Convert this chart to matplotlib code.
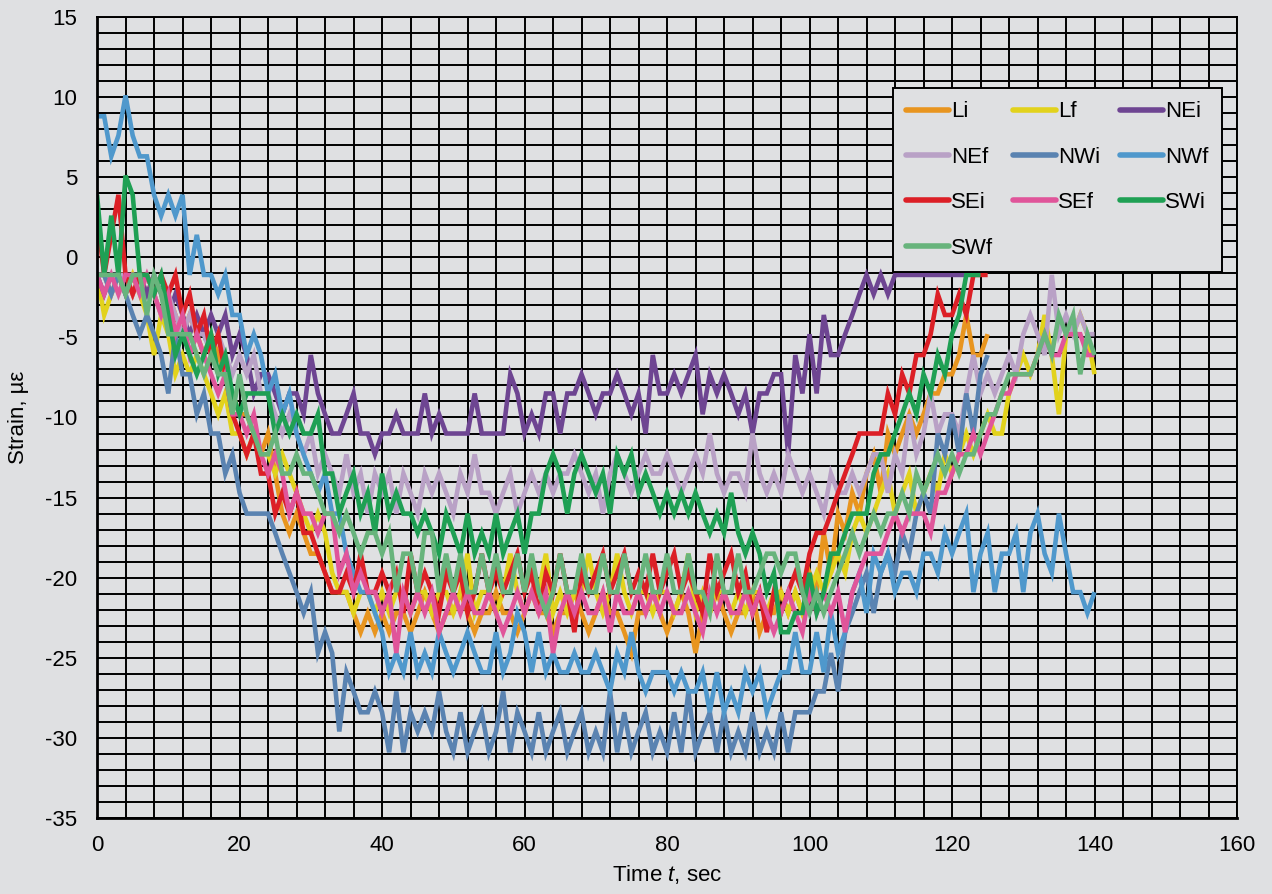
import numpy as np
import matplotlib
matplotlib.use("Agg")
import matplotlib.pyplot as plt
from matplotlib.ticker import MultipleLocator

plt.rcParams['font.family'] = ['Liberation Sans', 'DejaVu Sans']
plt.rcParams['mathtext.fontset'] = 'custom'
plt.rcParams['mathtext.rm'] = 'Liberation Sans'
plt.rcParams['mathtext.it'] = 'Liberation Sans:italic'
plt.rcParams['axes.unicode_minus'] = False

# gauge readings, strain in microstrain, one sample per second from t = 0
Li = [-1.1, -1.1, -2.3, -1.1, -1.1, -2.3, -1.1, -2.3, -2.3, -3.6,
      -2.3, -3.6, -4.8, -3.6, -4.8, -6.1, -4.8, -6.1, -7.3, -8.5,
      -9.8, -9.8, -11.0, -12.3, -11.0, -13.5, -16.0, -17.2, -16.0, -17.2,
      -18.5, -18.5, -19.7, -20.9, -20.9, -20.9, -22.2, -23.4, -22.2, -23.4,
      -22.2, -23.4, -22.2, -22.2, -23.4, -22.2, -20.9, -22.2, -23.4, -22.2,
      -22.2, -20.9, -22.2, -23.4, -22.2, -22.2, -20.9, -22.2, -22.2, -23.4,
      -22.2, -20.9, -22.2, -22.2, -23.4, -22.2, -22.2, -20.9, -22.2, -23.4,
      -22.2, -20.9, -22.2, -22.2, -23.4, -24.7, -22.2, -22.2, -20.9, -22.2,
      -23.4, -22.2, -20.9, -22.2, -24.7, -22.2, -22.2, -20.9, -22.2, -23.4,
      -22.2, -22.2, -20.9, -23.4, -22.2, -22.2, -20.9, -22.2, -20.9, -22.2,
      -19.7, -20.9, -17.2, -19.7, -16.0, -17.2, -14.7, -16.0, -13.5, -12.3,
      -14.7, -11.0, -12.3, -11.0, -9.8, -11.0, -9.8, -8.5, -8.5, -7.3,
      -7.3, -6.1, -3.6, -6.1, -6.1, -4.8]

Lf = [-1.1, -3.6, -2.3, -1.1, -2.3, -1.1, -2.3, -3.6, -6.1, -3.6,
      -4.8, -7.3, -6.1, -7.3, -6.1, -7.3, -8.5, -9.8, -8.5, -11.0,
      -11.0, -12.3, -11.0, -12.3, -12.3, -13.5, -12.3, -13.5, -14.7, -16.0,
      -17.2, -16.0, -17.2, -19.7, -20.9, -20.9, -22.2, -20.9, -20.9, -22.2,
      -20.9, -22.2, -20.9, -20.9, -22.2, -20.9, -20.9, -22.2, -20.9, -20.9,
      -22.2, -20.9, -18.5, -22.2, -20.9, -20.9, -22.2, -20.9, -18.5, -20.9,
      -22.2, -20.9, -20.9, -18.5, -22.2, -20.9, -22.2, -20.9, -20.9, -18.5,
      -20.9, -22.2, -20.9, -18.5, -20.9, -22.2, -20.9, -20.9, -22.2, -20.9,
      -20.9, -22.2, -20.9, -18.5, -22.2, -20.9, -22.2, -20.9, -20.9, -22.2,
      -20.9, -22.2, -20.9, -20.9, -22.2, -20.9, -20.9, -22.2, -20.9, -22.2,
      -20.9, -19.7, -20.9, -19.7, -18.5, -19.7, -17.2, -16.0, -17.2, -16.0,
      -14.7, -13.5, -16.0, -14.7, -13.5, -16.0, -14.7, -13.5, -14.7, -12.3,
      -13.5, -12.3, -11.0, -12.3, -11.0, -9.8, -11.0, -11.0, -8.5, -7.3,
      -6.1, -7.3, -6.1, -3.6, -6.1, -9.8, -4.8, -4.8, -3.6, -4.8, -7.3]

NEi = [-1.1, -2.3, -1.1, -1.1, -2.3, -1.1, -1.1, -2.3, -1.1, -2.3,
       -3.6, -2.3, -3.6, -4.8, -3.6, -4.8, -3.6, -4.8, -3.6, -6.1,
       -4.8, -6.1, -8.5, -7.3, -7.3, -8.5, -9.8, -8.5, -8.5, -9.8,
       -6.1, -8.5, -9.8, -11.0, -11.0, -9.8, -8.5, -11.0, -11.0, -12.3,
       -11.0, -11.0, -9.8, -11.0, -11.0, -11.0, -8.5, -11.0, -9.8, -11.0,
       -11.0, -11.0, -11.0, -8.5, -11.0, -11.0, -11.0, -11.0, -7.3, -8.5,
       -11.0, -9.8, -11.0, -8.5, -8.5, -11.0, -8.5, -8.5, -7.3, -8.5,
       -9.8, -8.5, -8.5, -7.3, -8.5, -9.8, -8.5, -11.0, -6.1, -8.5,
       -8.5, -7.3, -8.5, -7.3, -6.1, -9.8, -7.3, -8.5, -7.3, -8.5,
       -9.8, -8.5, -11.0, -8.5, -8.5, -7.3, -7.3, -12.3, -6.1, -8.5,
       -4.8, -8.5, -3.6, -6.1, -6.1, -4.8, -3.6, -2.3, -1.1, -2.3,
       -1.1, -2.3, -1.1, -1.1, -1.1, -1.1, -1.1, -1.1, -1.1, -1.1,
       -1.1, -1.1, -1.1]

NEf = [-1.1, -1.1, -2.3, -1.1, -1.1, -2.3, -1.1, -1.1, -2.3, -3.6,
       -2.3, -3.6, -4.8, -3.6, -4.8, -4.8, -6.1, -4.8, -6.1, -7.3,
       -6.1, -7.3, -6.1, -8.5, -8.5, -9.8, -11.0, -9.8, -11.0, -12.3,
       -11.0, -13.5, -12.3, -13.5, -14.7, -12.3, -14.7, -13.5, -16.0, -13.5,
       -14.7, -13.5, -16.0, -13.5, -14.7, -16.0, -13.5, -14.7, -13.5, -14.7,
       -16.0, -13.5, -14.7, -12.3, -14.7, -14.7, -16.0, -14.7, -13.5, -16.0,
       -14.7, -13.5, -14.7, -13.5, -14.7, -13.5, -13.5, -12.3, -13.5, -14.7,
       -13.5, -16.0, -13.5, -12.3, -13.5, -14.7, -13.5, -12.3, -13.5, -13.5,
       -12.3, -13.5, -14.7, -13.5, -12.3, -13.5, -11.0, -13.5, -14.7, -13.5,
       -13.5, -14.7, -11.0, -13.5, -14.7, -13.5, -14.7, -12.3, -13.5, -14.7,
       -13.5, -14.7, -16.0, -13.5, -14.7, -14.7, -13.5, -14.7, -13.5, -12.3,
       -12.3, -14.7, -12.3, -13.5, -9.8, -12.3, -11.0, -8.5, -11.0, -9.8,
       -9.8, -11.0, -8.5, -6.1, -8.5, -7.3, -8.5, -7.3, -6.1, -7.3,
       -4.8, -3.6, -4.8, -6.1, -1.1, -4.8, -3.6, -4.8, -3.6, -4.8, -4.8]

NWi = [-1.1, -1.1, -2.3, -1.1, -2.3, -3.6, -4.8, -3.6, -4.8, -6.1,
       -8.5, -4.8, -7.3, -7.3, -9.8, -8.5, -11.0, -11.0, -13.5, -12.3,
       -14.7, -16.0, -16.0, -16.0, -16.0, -17.2, -18.5, -19.7, -20.9, -22.2,
       -20.9, -24.7, -23.4, -24.7, -29.6, -25.9, -27.1, -28.4, -28.4, -27.1,
       -28.4, -30.9, -27.1, -30.9, -28.4, -29.6, -28.4, -29.6, -27.1, -29.6,
       -30.9, -28.4, -30.9, -29.6, -28.4, -30.9, -29.6, -27.1, -30.9, -28.4,
       -29.6, -30.9, -28.4, -30.9, -29.6, -28.4, -30.9, -29.6, -28.4, -30.9,
       -29.6, -30.9, -27.1, -30.9, -28.4, -30.9, -29.6, -28.4, -30.9, -29.6,
       -30.9, -28.4, -30.9, -27.1, -30.9, -29.6, -28.4, -30.9, -28.4, -30.9,
       -29.6, -30.9, -28.4, -30.9, -29.6, -30.9, -28.4, -30.9, -28.4, -28.4,
       -28.4, -27.1, -27.1, -24.7, -27.1, -23.4, -22.2, -20.9, -19.7, -22.2,
       -19.7, -18.5, -19.7, -17.2, -18.5, -16.0, -14.7, -16.0, -11.0, -12.3,
       -9.8, -12.3, -8.5, -11.0, -7.3, -6.1]

NWf = [8.8, 8.8, 6.3, 7.6, 10.1, 7.6, 6.3, 6.3, 3.9, 2.6,
       3.9, 2.6, 3.9, -1.1, 1.4, -1.1, -1.1, -2.3, -1.1, -3.6,
       -3.6, -6.1, -4.8, -6.1, -8.5, -7.3, -9.8, -8.5, -11.0, -12.3,
       -13.5, -14.7, -13.5, -16.0, -16.0, -18.5, -19.7, -20.9, -20.9, -22.2,
       -23.4, -25.9, -24.7, -25.9, -23.4, -25.9, -24.7, -25.9, -23.4, -24.7,
       -25.9, -24.7, -23.4, -24.7, -25.9, -25.9, -23.4, -25.9, -24.7, -22.2,
       -23.4, -25.9, -23.4, -25.9, -24.7, -25.9, -25.9, -24.7, -25.9, -25.9,
       -24.7, -25.9, -27.1, -24.7, -25.9, -23.4, -25.9, -27.1, -25.9, -25.9,
       -25.9, -27.1, -25.9, -27.1, -27.1, -25.9, -28.4, -25.9, -28.4, -27.1,
       -28.4, -25.9, -27.1, -25.9, -28.4, -27.1, -25.9, -25.9, -23.4, -25.9,
       -25.9, -23.4, -25.9, -22.2, -24.7, -23.4, -20.9, -19.7, -22.2, -18.5,
       -19.7, -18.5, -20.9, -19.7, -19.7, -20.9, -18.5, -18.5, -19.7, -17.2,
       -18.5, -17.2, -16.0, -20.9, -18.5, -17.2, -20.9, -18.5, -18.5, -17.2,
       -20.9, -17.2, -16.0, -18.5, -19.7, -16.0, -18.5, -20.9, -20.9, -22.2, -20.9]

SEi = [2.6, -1.1, 1.4, 3.9, -1.1, -2.3, -1.1, -1.1, -2.3, -1.1,
       -2.3, -1.1, -3.6, -2.3, -4.8, -3.6, -6.1, -4.8, -7.3, -9.8,
       -11.0, -12.3, -11.0, -13.5, -13.5, -16.0, -14.7, -16.0, -14.7, -17.2,
       -17.2, -18.5, -19.7, -20.9, -20.9, -19.7, -20.9, -18.5, -20.9, -20.9,
       -19.7, -20.9, -19.7, -22.2, -18.5, -20.9, -19.7, -20.9, -22.2, -19.7,
       -20.9, -19.7, -22.2, -20.9, -18.5, -20.9, -19.7, -20.9, -19.7, -18.5,
       -20.9, -19.7, -22.2, -19.7, -20.9, -18.5, -20.9, -23.4, -19.7, -20.9,
       -19.7, -18.5, -20.9, -19.7, -18.5, -20.9, -19.7, -20.9, -18.5, -20.9,
       -19.7, -18.5, -20.9, -19.7, -20.9, -22.2, -18.5, -20.9, -19.7, -18.5,
       -20.9, -19.7, -22.2, -20.9, -23.4, -20.9, -22.2, -20.9, -19.7, -20.9,
       -18.5, -17.2, -17.2, -16.0, -14.7, -13.5, -12.3, -11.0, -11.0, -11.0,
       -11.0, -8.5, -9.8, -7.3, -8.5, -6.1, -6.1, -4.8, -2.3, -3.6,
       -3.6, -2.3, -3.6, -1.1, -1.1, -1.1]

SEf = [-1.1, -2.3, -1.1, -2.3, -1.1, -1.1, -2.3, -1.1, -2.3, -3.6,
       -2.3, -4.8, -3.6, -6.1, -4.8, -6.1, -7.3, -8.5, -7.3, -9.8,
       -9.8, -11.0, -9.8, -12.3, -13.5, -12.3, -13.5, -16.0, -14.7, -16.0,
       -16.0, -17.2, -16.0, -16.0, -19.7, -18.5, -20.9, -19.7, -20.9, -20.9,
       -22.2, -20.9, -24.7, -20.9, -22.2, -20.9, -22.2, -20.9, -23.4, -22.2,
       -20.9, -22.2, -20.9, -22.2, -22.2, -20.9, -22.2, -23.4, -22.2, -20.9,
       -22.2, -20.9, -22.2, -20.9, -24.7, -22.2, -20.9, -22.2, -20.9, -22.2,
       -22.2, -20.9, -23.4, -20.9, -22.2, -22.2, -20.9, -22.2, -20.9, -22.2,
       -20.9, -22.2, -22.2, -20.9, -22.2, -23.4, -20.9, -22.2, -20.9, -22.2,
       -22.2, -20.9, -22.2, -20.9, -22.2, -23.4, -22.2, -20.9, -22.2, -23.4,
       -20.9, -22.2, -20.9, -22.2, -20.9, -23.4, -20.9, -19.7, -18.5, -18.5,
       -18.5, -17.2, -16.0, -17.2, -16.0, -16.0, -16.0, -17.2, -14.7, -14.7,
       -13.5, -12.3, -12.3, -11.0, -12.3, -11.0, -9.8, -8.5, -8.5, -7.3,
       -7.3, -7.3, -6.1, -4.8, -6.1, -6.1, -4.8, -4.8, -4.8, -6.1, -6.1]

SWi = [3.9, -1.1, 2.6, -1.1, 5.1, 3.9, -1.1, -1.1, -2.3, -1.1,
       -3.6, -6.1, -4.8, -6.1, -7.3, -6.1, -4.8, -7.3, -6.1, -8.5,
       -9.8, -8.5, -8.5, -8.5, -8.5, -11.0, -9.8, -11.0, -9.8, -11.0,
       -11.0, -9.8, -13.5, -13.5, -16.0, -14.7, -13.5, -16.0, -14.7, -17.2,
       -13.5, -16.0, -14.7, -16.0, -16.0, -17.2, -16.0, -17.2, -18.5, -16.0,
       -17.2, -18.5, -16.0, -18.5, -17.2, -18.5, -16.0, -18.5, -17.2, -16.0,
       -18.5, -16.0, -16.0, -13.5, -12.3, -13.5, -16.0, -13.5, -12.3, -13.5,
       -14.7, -13.5, -16.0, -12.3, -13.5, -12.3, -14.7, -13.5, -14.7, -16.0,
       -14.7, -16.0, -14.7, -16.0, -14.7, -16.0, -17.2, -16.0, -17.2, -14.7,
       -17.2, -18.5, -17.2, -18.5, -20.9, -19.7, -23.4, -23.4, -22.2, -22.2,
       -19.7, -22.2, -20.9, -18.5, -18.5, -17.2, -16.0, -16.0, -16.0, -13.5,
       -12.3, -12.3, -11.0, -9.8, -8.5, -9.8, -7.3, -8.5, -6.1, -7.3,
       -4.8, -3.6, -1.1, -1.1, -1.1]

SWf = [-1.1, -1.1, -1.1, -1.1, -2.3, -1.1, -1.1, -3.6, -1.1, -2.3,
       -4.8, -4.8, -4.8, -4.8, -6.1, -7.3, -6.1, -7.3, -7.3, -9.8,
       -7.3, -9.8, -11.0, -12.3, -12.3, -11.0, -13.5, -13.5, -12.3, -13.5,
       -13.5, -14.7, -16.0, -16.0, -17.2, -16.0, -17.2, -18.5, -17.2, -17.2,
       -18.5, -17.2, -20.9, -18.5, -18.5, -20.9, -17.2, -17.2, -20.9, -18.5,
       -20.9, -18.5, -20.9, -20.9, -18.5, -20.9, -18.5, -20.9, -20.9, -18.5,
       -20.9, -18.5, -20.9, -22.2, -20.9, -18.5, -20.9, -20.9, -18.5, -20.9,
       -20.9, -18.5, -20.9, -20.9, -18.5, -20.9, -20.9, -18.5, -20.9, -20.9,
       -18.5, -20.9, -20.9, -18.5, -20.9, -20.9, -22.2, -18.5, -20.9, -20.9,
       -18.5, -20.9, -20.9, -19.7, -18.5, -18.5, -19.7, -18.5, -18.5, -20.9,
       -22.2, -20.9, -22.2, -20.9, -19.7, -18.5, -17.2, -18.5, -17.2, -16.0,
       -17.2, -16.0, -16.0, -14.7, -16.0, -13.5, -14.7, -13.5, -12.3, -13.5,
       -12.3, -13.5, -12.3, -12.3, -11.0, -9.8, -9.8, -8.5, -7.3, -7.3,
       -7.3, -7.3, -6.1, -4.8, -6.1, -3.6, -4.8, -3.6, -7.3, -4.8, -6.1]

series = [
    ("Li", Li, "#e8951f"),
    ("Lf", Lf, "#e2d21c"),
    ("NEi", NEi, "#6e4592"),
    ("NEf", NEf, "#b9a1c6"),
    ("NWi", NWi, "#5a83b1"),
    ("NWf", NWf, "#4f98cc"),
    ("SEi", SEi, "#dc1f26"),
    ("SEf", SEf, "#e0559a"),
    ("SWi", SWi, "#1fa054"),
    ("SWf", SWf, "#68b47c"),
]

bg = "#dfe0e2"
fig = plt.figure(figsize=(12.72, 8.94), dpi=100, facecolor=bg)
ax = fig.add_axes([0.0763, 0.085, 0.8962, 0.896])
ax.set_facecolor(bg)

lines = {}
for name, vals, color in series:
    t = np.arange(len(vals)) * 1.0
    ln, = ax.plot(t, vals, color=color, lw=3.3, label=name,
                  solid_joinstyle='miter', solid_capstyle='butt')
    lines[name] = ln

ax.set_xlim(0, 160)
ax.set_ylim(-35, 15)
ax.xaxis.set_major_locator(MultipleLocator(20))
ax.xaxis.set_minor_locator(MultipleLocator(4))
ax.yaxis.set_major_locator(MultipleLocator(5))
ax.yaxis.set_minor_locator(MultipleLocator(1))
ax.grid(which='both', color='black', lw=1.4)
ax.set_axisbelow(True)
ax.tick_params(which='both', length=0)
ax.tick_params(axis='x', labelsize=16, pad=12)
ax.tick_params(axis='y', labelsize=16, pad=14)
for side in ['top', 'right']:
    ax.spines[side].set_linewidth(1.4)
for side in ['left', 'bottom']:
    ax.spines[side].set_linewidth(2.0)

ax.set_xlabel("Time $t$, sec", fontsize=16, labelpad=5)
ax.set_ylabel("Strain, µε", fontsize=16, labelpad=12)

# legend reads row by row, matplotlib fills column by column
order = ["Li", "NEf", "SEi", "SWf", "Lf", "NWi", "SEf", "NEi", "NWf", "SWi"]
leg = ax.legend([lines[n] for n in order], order, ncol=3, loc='upper right',
                bbox_to_anchor=(0.9607, 0.9016), bbox_transform=fig.transFigure,
                fontsize=16, handlelength=1.9, handletextpad=0.12,
                columnspacing=0.9, labelspacing=1.1, borderpad=0.6,
                borderaxespad=0, fancybox=False, framealpha=1)
leg.get_frame().set_facecolor(bg)
leg.get_frame().set_edgecolor('black')
leg.get_frame().set_linewidth(1.4)
for h in leg.get_lines():
    h.set_linewidth(4.0)
    h.set_solid_capstyle('round')

fig.savefig("out.png", dpi=100, facecolor=bg)
